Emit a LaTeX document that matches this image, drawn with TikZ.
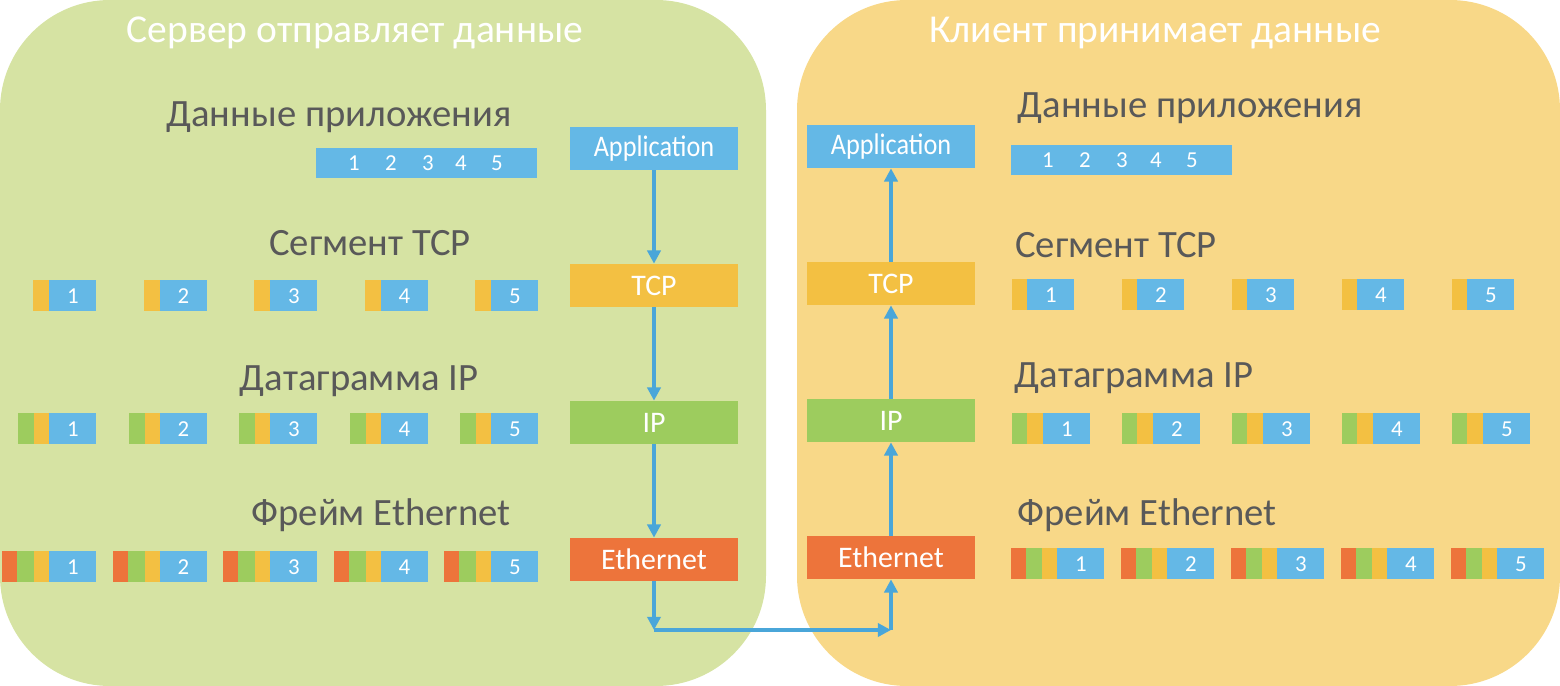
\documentclass[tikz,border=0pt]{standalone}
\usepackage{fontspec}
\usepackage{graphicx}
\setmainfont{Carlito}
\usetikzlibrary{arrows.meta}
\definecolor{panelgreen}{RGB}{214,227,163}
\definecolor{panelorange}{RGB}{248,216,136}
\definecolor{pblue}{RGB}{100,184,230}
\definecolor{pyellow}{RGB}{243,192,66}
\definecolor{pgreen}{RGB}{157,204,94}
\definecolor{porange}{RGB}{237,116,59}
\definecolor{arrowblue}{RGB}{74,166,217}
\definecolor{headgray}{RGB}{89,89,89}
\begin{document}
\begin{tikzpicture}[x=0.02cm, y=-0.02cm,
		layer/.style={minimum width=3.36cm, minimum height=0.86cm, inner sep=0pt, text=white, font=\fontsize{17}{19}\selectfont},
		heading/.style={text=headgray, font=\fontsize{22}{26}\selectfont},
		title/.style={text=white, font=\fontsize{22.5}{26}\selectfont},
		blk/.style={fill=pblue, anchor=north west, minimum width=0.94cm, minimum height=0.62cm, inner sep=0pt, text=white, font=\fontsize{13}{15}\selectfont},
		num/.style={text=white, inner sep=0pt, font=\fontsize{13}{15}\selectfont},
		flow/.style={-{Triangle[length=7.5pt, width=7.5pt]}, line width=2.6pt, arrowblue}]
			\useasboundingbox (0, 0) rectangle (1560, 686);
			\fill[panelgreen, rounded corners=2.2cm] (0, 0) rectangle (766, 686);
			\fill[panelorange, rounded corners=2.2cm] (797, 0) rectangle (1560, 686);
			\node[title] (titleL) at (355, 33) {Сервер отправляет данные};
			\node[title] (titleR) at (1155, 33) {Клиент принимает данные};
			\node[heading] (hdAppL) at (339, 117) {Данные приложения};
			\node[heading] (hdAppR) at (1190, 108) {Данные приложения};
			\node[heading] (hdTcpL) at (370, 243) {Сегмент TCP};
			\node[heading] (hdTcpR) at (1116, 245) {Сегмент TCP};
			\node[heading] (hdIpL) at (359, 381) {Датаграмма IP};
			\node[heading] (hdIpR) at (1134, 378) {Датаграмма IP};
			\node[heading] (hdEthL) at (381, 515) {Фрейм Ethernet};
			\node[heading] (hdEthR) at (1147, 515) {Фрейм Ethernet};
			\node[fill=pblue, anchor=north west, minimum width=4.42cm, minimum height=0.6cm, inner sep=0pt] (dataL) at (316, 148) {};
			\node[fill=pblue, anchor=north west, minimum width=4.42cm, minimum height=0.6cm, inner sep=0pt] (dataR) at (1011, 145) {};
			\foreach \n/\x in {1/354, 2/391, 3/428, 4/461, 5/497}
				\node[num] (dL\n) at (\x, 163) {\n};
			\foreach \n/\x in {1/1048, 2/1085, 3/1122, 4/1156, 5/1192}
				\node[num] (dR\n) at (\x, 160) {\n};
			\foreach \i in {1,...,5} {
				\fill[pyellow] ({33+110.5*(\i-1)}, 280) rectangle +(16, 31);
				\node[blk] (segL\i) at ({49+110.5*(\i-1)}, 280) {\i};
				\fill[pgreen] ({18+110.5*(\i-1)}, 413) rectangle +(16, 31);
				\fill[pyellow] ({34+110.5*(\i-1)}, 413) rectangle +(15, 31);
				\node[blk] (dgL\i) at ({49+110.5*(\i-1)}, 413) {\i};
				\fill[porange] ({2+110.5*(\i-1)}, 551) rectangle +(15, 31);
				\fill[pgreen] ({17+110.5*(\i-1)}, 551) rectangle +(17, 31);
				\fill[pyellow] ({34+110.5*(\i-1)}, 551) rectangle +(15, 31);
				\node[blk] (frL\i) at ({49+110.5*(\i-1)}, 551) {\i};
				\fill[pyellow] ({1012+110*(\i-1)}, 279) rectangle +(15, 31);
				\node[blk] (segR\i) at ({1027+110*(\i-1)}, 279) {\i};
				\fill[pgreen] ({1012+110*(\i-1)}, 413) rectangle +(15, 31);
				\fill[pyellow] ({1027+110*(\i-1)}, 413) rectangle +(16, 31);
				\node[blk] (dgR\i) at ({1043+110*(\i-1)}, 413) {\i};
				\fill[porange] ({1011+110*(\i-1)}, 548) rectangle +(15, 31);
				\fill[pgreen] ({1026+110*(\i-1)}, 548) rectangle +(16, 31);
				\fill[pyellow] ({1042+110*(\i-1)}, 548) rectangle +(15, 31);
				\node[blk] (frR\i) at ({1057+110*(\i-1)}, 548) {\i};
			}
			\node[layer, fill=pblue] (appL) at (654, 148.5) {\scalebox{0.88}[1]{Application}};
			\node[layer, fill=pyellow] (tcpL) at (654, 285.5) {TCP};
			\node[layer, fill=pgreen] (ipL) at (654, 422.5) {IP};
			\node[layer, fill=porange] (ethL) at (654, 559.5) {Ethernet};
			\node[layer, fill=pblue] (appR) at (891, 146.5) {\scalebox{0.88}[1]{Application}};
			\node[layer, fill=pyellow] (tcpR) at (891, 283.5) {TCP};
			\node[layer, fill=pgreen] (ipR) at (891, 420.5) {IP};
			\node[layer, fill=porange] (ethR) at (891, 557.5) {Ethernet};
			\coordinate (turnL) at (654, 630);
			\coordinate (turnR) at (891, 630);
			\draw[flow] (appL) -- (tcpL);
			\draw[flow] (tcpL) -- (ipL);
			\draw[flow] (ipL) -- (ethL);
			\draw[flow] (ethL) -- (turnL);
			\draw[flow] (turnL) -- (turnR);
			\draw[flow] (turnR) -- (ethR);
			\draw[flow] (ethR) -- (ipR);
			\draw[flow] (ipR) -- (tcpR);
			\draw[flow] (tcpR) -- (appR);
		\end{tikzpicture}
\end{document}
